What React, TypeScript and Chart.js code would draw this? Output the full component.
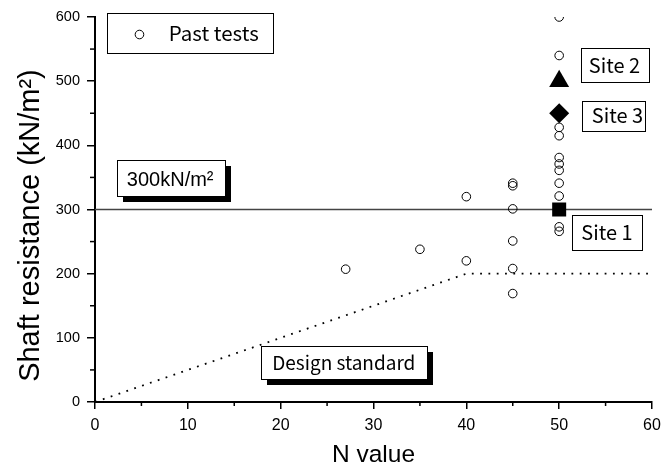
import React, { useEffect, useRef } from 'react';
import { Chart, registerables } from 'chart.js';

Chart.register(...registerables);

// ---- data ----
const pastTestN = [27, 35, 40, 40, 45, 45, 45, 45, 45, 45, 50, 50, 50, 50, 50, 50, 50, 50, 50, 50, 50];
const pastTestValues = [207, 238, 320, 220, 341, 337, 301, 251, 208, 169, 600, 540, 428, 415, 381, 371, 361, 341, 321, 273, 266];
const designN = [0, 40, 60];
const designValues = [0, 200, 200];
const thresholdN = [0, 60];
const thresholdValues = [300, 300];
const siteNames = ['Site 1', 'Site 2', 'Site 3'];
const siteN = [50, 50, 50];
const siteValues = [300, 500, 450];
const siteStyles = ['rect', 'triangle', 'rectRot'];
const xTickStep = 10;
const yTickStep = 100;
const xTitle = 'N value';
const yTitle = 'Shaft resistance (kN/m²)';

// ---- annotation layout (in data units) ----
const SANS = '"Liberation Sans", Arial, sans-serif';
const GOTHIC = '"Noto Sans CJK JP", "Liberation Sans", sans-serif';
type Box = { text: string; x1: number; x2: number; yTop: number; yBottom: number; tx: number; ty: number; font: string; shadow: boolean; marker?: { x: number; y: number } };
const boxes: Box[] = [
  { text: 'Past tests', x1: 1.27, x2: 19.15, yTop: 605.8, yBottom: 543.4, tx: 7.95, ty: 562.6, font: `20.5px ${GOTHIC}`, shadow: false, marker: { x: 4.79, y: 572.7 } },
  { text: '300kN/m²', x1: 2.39, x2: 14.03, yTop: 377.9, yBottom: 321.0, tx: 3.43, ty: 336.6, font: `20px ${SANS}`, shadow: true },
  { text: 'Design standard', x1: 17.9, x2: 35.74, yTop: 87.3, yBottom: 35.4, tx: 19.09, ty: 49.9, font: `19px ${GOTHIC}`, shadow: true },
  { text: siteNames[1], x1: 52.38, x2: 59.66, yTop: 551.2, yBottom: 499.2, tx: 53.19, ty: 513.2, font: `20px ${GOTHIC}`, shadow: false },
  { text: siteNames[2], x1: 52.41, x2: 59.27, yTop: 469.6, yBottom: 422.3, tx: 53.52, ty: 435.3, font: `20px ${GOTHIC}`, shadow: false },
  { text: siteNames[0], x1: 51.34, x2: 58.87, yTop: 291.4, yBottom: 236.9, tx: 52.38, ty: 252.5, font: `20px ${GOTHIC}`, shadow: false },
];

const boxPlugin = {
  id: 'boxes',
  afterDatasetsDraw(chart: any) {
    const { ctx, scales } = chart;
    const xs = scales.x, ys = scales.y;
    ctx.save();
    for (const b of boxes) {
      const l = Math.round(xs.getPixelForValue(b.x1));
      const r = Math.round(xs.getPixelForValue(b.x2));
      const t = Math.round(ys.getPixelForValue(b.yTop));
      const bt = Math.round(ys.getPixelForValue(b.yBottom));
      if (b.shadow) {
        ctx.fillStyle = '#000';
        ctx.fillRect(l + 6, t + 6, r - l, bt - t);
      }
      ctx.fillStyle = '#fff';
      ctx.fillRect(l, t, r - l, bt - t);
      ctx.strokeStyle = '#000';
      ctx.lineWidth = 1;
      ctx.strokeRect(l + 0.5, t + 0.5, r - l, bt - t);
      ctx.fillStyle = '#000';
      ctx.font = b.font;
      ctx.textBaseline = 'alphabetic';
      ctx.textAlign = 'left';
      ctx.fillText(b.text, xs.getPixelForValue(b.tx), ys.getPixelForValue(b.ty));
      if (b.marker) {
        ctx.beginPath();
        ctx.arc(xs.getPixelForValue(b.marker.x), ys.getPixelForValue(b.marker.y), 4.3, 0, Math.PI * 2);
        ctx.lineWidth = 1;
        ctx.stroke();
      }
    }
    ctx.restore();
  },
};

const axisExtrasPlugin = {
  id: 'axisExtras',
  afterDraw(chart: any) {
    const { ctx, scales } = chart;
    const xs = scales.x, ys = scales.y;
    ctx.save();
    ctx.strokeStyle = '#000';
    ctx.lineWidth = 1.5;
    const y0 = ys.getPixelForValue(ys.min);
    for (let v = xs.min + xTickStep / 2; v < xs.max; v += xTickStep) {
      const px = xs.getPixelForValue(v);
      ctx.beginPath();
      ctx.moveTo(px, y0);
      ctx.lineTo(px, y0 + 4);
      ctx.stroke();
    }
    const x0 = xs.getPixelForValue(xs.min);
    for (let v = ys.min + yTickStep / 2; v < ys.max; v += yTickStep) {
      const py = ys.getPixelForValue(v);
      ctx.beginPath();
      ctx.moveTo(x0, py);
      ctx.lineTo(x0 - 5, py);
      ctx.stroke();
    }
    // y axis title
    ctx.translate(ys.left + 31, ys.getPixelForValue(275));
    ctx.rotate(-Math.PI / 2);
    ctx.font = `29px ${SANS}`;
    ctx.fillStyle = '#000';
    ctx.textAlign = 'center';
    ctx.textBaseline = 'middle';
    ctx.fillText(yTitle, 0, 0);
    ctx.restore();
  },
};

export default function App() {
  const ref = useRef<HTMLCanvasElement | null>(null);
  useEffect(() => {
    if (!ref.current) return;
    const chart = new Chart(ref.current, {
      type: 'scatter',
      data: {
        datasets: [
          {
            label: 'Sites',
            data: siteN.map((n, i) => ({ x: n, y: siteValues[i] })),
            pointStyle: siteStyles as any,
            pointRadius: [9.9, 11.5, 10],
            backgroundColor: '#000',
            borderColor: '#000',
            borderWidth: 0,
          },
          {
            label: 'Past tests',
            data: pastTestN.map((n, i) => ({ x: n, y: pastTestValues[i] })),
            pointStyle: 'circle',
            pointRadius: 4.3,
            borderWidth: 1,
            borderColor: '#000',
            backgroundColor: 'rgba(0,0,0,0)',
          },
          {
            label: '300kN/m²',
            data: thresholdN.map((n, i) => ({ x: n, y: thresholdValues[i] })),
            showLine: true,
            pointRadius: 0,
            borderColor: '#444',
            borderWidth: 1.5,
          },
          {
            label: 'Design standard',
            data: designN.map((n, i) => ({ x: n, y: designValues[i] })),
            showLine: true,
            pointRadius: 0,
            borderColor: '#000',
            borderWidth: 1.8,
            borderDash: [1.8, 6.5],
          },
        ],
      },
      options: {
        animation: false,
        responsive: false,
        layout: { padding: { top: 17, right: 20, left: 0, bottom: 0 } },
        plugins: { legend: { display: false }, tooltip: { enabled: false } },
        scales: {
          x: {
            type: 'linear',
            min: 0,
            max: 60,
            ticks: { stepSize: xTickStep, color: '#000', font: { family: SANS, size: 16 }, padding: 7 },
            grid: { drawOnChartArea: false, drawTicks: true, tickLength: 7, color: '#000', lineWidth: 1.5 },
            border: { display: true, color: '#000', width: 2 },
            title: { display: true, text: xTitle, color: '#000', font: { family: SANS, size: 24.5 }, padding: { top: 0, bottom: 0 } },
            afterFit(s: any) { s.height = 68; },
          },
          y: {
            type: 'linear',
            min: 0,
            max: 600,
            ticks: { stepSize: yTickStep, color: '#000', font: { family: SANS, size: 14.5 }, padding: 7 },
            grid: { drawOnChartArea: false, drawTicks: true, tickLength: 8, color: '#000', lineWidth: 1.5 },
            border: { display: true, color: '#000', width: 2 },
            title: { display: false },
            afterFit(s: any) { s.width = 95; },
          },
        },
      },
      plugins: [boxPlugin, axisExtrasPlugin],
    });
    return () => chart.destroy();
  }, []);
  return (
    <div style={{ position: 'fixed', left: 0, top: 0, width: 672, height: 470, background: '#fff' }}>
      <canvas ref={ref} width={672} height={470} />
    </div>
  );
}
